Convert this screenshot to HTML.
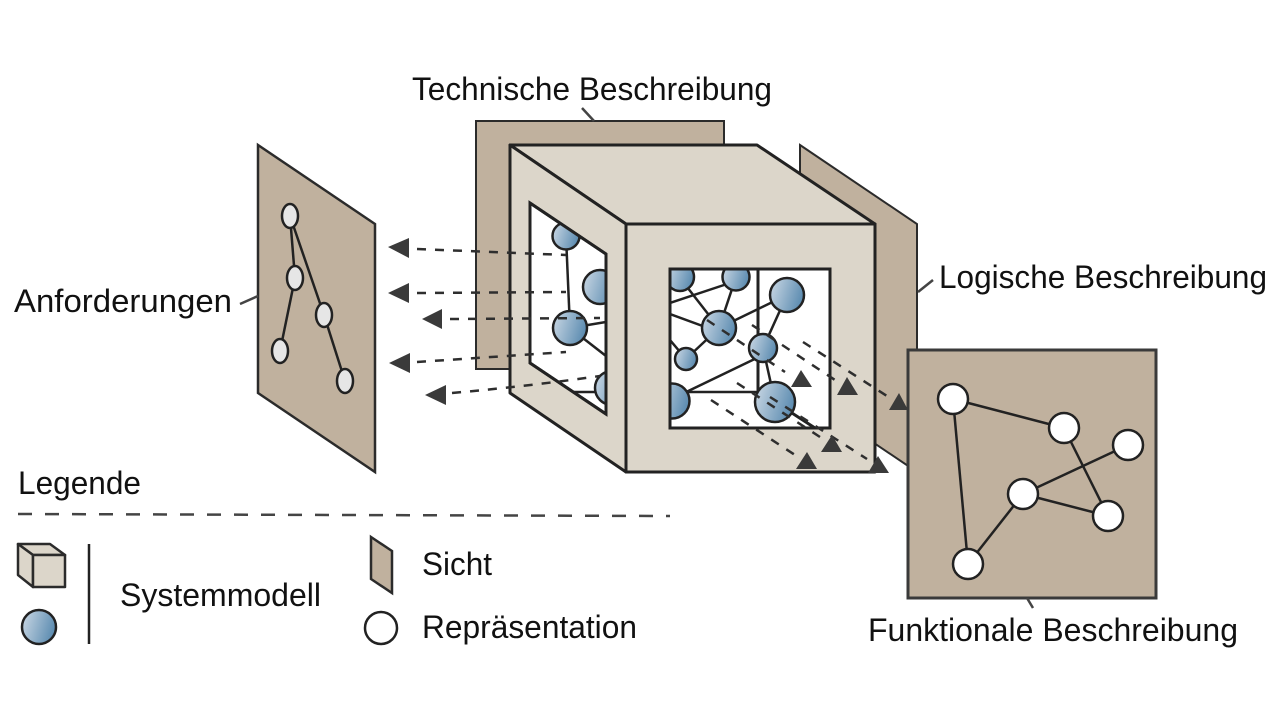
<!DOCTYPE html>
<html><head><meta charset="utf-8"><style>
html,body{margin:0;padding:0;background:#fff}
svg{display:block}
text{font-family:"Liberation Sans",sans-serif;fill:#111;font-size:32.5px}
</style></head><body>
<svg width="1280" height="721" viewBox="0 0 1280 721" xmlns="http://www.w3.org/2000/svg">
<defs>
<linearGradient id="g" x1="0" x2="1" y1="0.2" y2="0.5"><stop offset="0" stop-color="#c8d6e3"/><stop offset="1" stop-color="#5b8bb0"/></linearGradient>
<clipPath id="fw"><rect x="670" y="269" width="160" height="159"/></clipPath>
<clipPath id="lw"><polygon points="530,203 606,254 606,414 530,363"/></clipPath>
</defs>
<rect width="1280" height="721" fill="#fff"/>

<!-- back panels -->
<rect x="476" y="121" width="248" height="248" fill="#c0b19e" stroke="#2b2b2b" stroke-width="2"/>
<polygon points="800,145 917,224 917,472 800,393" fill="#c0b19e" stroke="#2b2b2b" stroke-width="2"/>

<!-- cube -->
<g stroke="#222" stroke-width="3" stroke-linejoin="round">
<polygon points="510,145 757,145 875,224 626,224" fill="#dcd6ca"/>
<polygon points="510,145 626,224 626,472 510,393" fill="#dcd6ca"/>
<rect x="626" y="224" width="249" height="248" fill="#dcd6ca"/>
<polygon points="530,203 606,254 606,414 530,363" fill="#fff"/>
<rect x="670" y="269" width="160" height="159" fill="#fff"/>
</g>

<!-- left window content -->
<g clip-path="url(#lw)" stroke="#222" stroke-width="2.5">
<line x1="566" y1="236" x2="570" y2="328"/>
<line x1="570" y1="328" x2="606" y2="322"/>
<line x1="570" y1="328" x2="606" y2="356"/>
<line x1="570" y1="392" x2="610" y2="392"/>
<circle cx="566" cy="236" r="13.5" fill="url(#g)"/>
<circle cx="600" cy="287" r="17" fill="url(#g)"/>
<circle cx="570" cy="328" r="17" fill="url(#g)"/>
<circle cx="612" cy="388" r="17" fill="url(#g)"/>
</g>
<polygon points="530,203 606,254 606,414 530,363" fill="none" stroke="#222" stroke-width="3"/>

<!-- front window content -->
<g clip-path="url(#fw)" stroke="#222" stroke-width="2.5">
<line x1="758" y1="269" x2="758" y2="392" stroke-width="3"/>
<line x1="670" y1="392" x2="760" y2="392"/>
<line x1="670" y1="303" x2="736" y2="281"/>
<line x1="680" y1="278" x2="719" y2="328"/>
<line x1="736" y1="277" x2="719" y2="328"/>
<line x1="670" y1="314" x2="719" y2="332"/>
<line x1="670" y1="340" x2="686" y2="359"/>
<line x1="686" y1="359" x2="719" y2="328"/>
<line x1="719" y1="328" x2="787" y2="295"/>
<line x1="787" y1="295" x2="763" y2="348"/>
<line x1="763" y1="348" x2="775" y2="402"/>
<line x1="763" y1="355" x2="680" y2="395"/>
<line x1="775" y1="402" x2="815" y2="428" stroke-width="3"/>
<circle cx="680" cy="277" r="14" fill="url(#g)"/>
<circle cx="736" cy="277" r="13.5" fill="url(#g)"/>
<circle cx="787" cy="295" r="17" fill="url(#g)"/>
<circle cx="719" cy="328" r="17" fill="url(#g)"/>
<circle cx="763" cy="348" r="14" fill="url(#g)"/>
<circle cx="686" cy="359" r="11" fill="url(#g)"/>
<circle cx="672" cy="401" r="17.5" fill="url(#g)"/>
<circle cx="775" cy="402" r="20" fill="url(#g)"/>
</g>
<rect x="670" y="269" width="160" height="159" fill="none" stroke="#222" stroke-width="3"/>

<!-- dashed connectors -->
<g fill="none" stroke="#2e2e2e" stroke-width="2.5" stroke-dasharray="9 9">
<line x1="417" y1="249" x2="566" y2="255"/>
<line x1="417" y1="293" x2="566" y2="292"/>
<line x1="450" y1="319" x2="600" y2="318"/>
<line x1="417" y1="362" x2="566" y2="352"/>
<path d="M452,393 Q530,386 600,376"/>
<line x1="707" y1="320" x2="785" y2="372"/>
<line x1="752" y1="325" x2="835" y2="380"/>
<line x1="803" y1="342" x2="887" y2="396"/>
<line x1="737" y1="383" x2="820" y2="437"/>
<line x1="711" y1="400" x2="795" y2="455"/>
<line x1="770" y1="397" x2="867" y2="459"/>
</g>

<!-- arrowheads -->
<g fill="#3a3a3a">
<polygon points="388,247 409,238 409,258"/>
<polygon points="388,293 409,283 409,303"/>
<polygon points="422,319 442,309 442,329"/>
<polygon points="389,363 410,353 410,373"/>
<polygon points="425,395 446,385 446,405"/>
<polygon points="801,370 791,387 812,387"/>
<polygon points="847,377 837,395 858,395"/>
<polygon points="899,393 889,410 908,410"/>
<polygon points="832,435 821,452 842,452"/>
<polygon points="807,452 796,469 817,469"/>
<polygon points="878,456 868,473 889,473"/>
</g>

<!-- Requirements panel -->
<polygon points="258,145 375,224 375,472 258,393" fill="#c0b19e" stroke="#2b2b2b" stroke-width="2.5"/>
<g stroke="#222" stroke-width="2.5" fill="none">
<line x1="290" y1="216" x2="295" y2="278"/>
<line x1="290" y1="216" x2="324" y2="315"/>
<line x1="295" y1="278" x2="280" y2="351"/>
<line x1="324" y1="315" x2="345" y2="381"/>
</g>
<g stroke="#222" stroke-width="2.5" fill="#e6e6e6">
<ellipse cx="290" cy="216" rx="8" ry="12"/>
<ellipse cx="295" cy="278" rx="8" ry="12"/>
<ellipse cx="324" cy="315" rx="8" ry="12"/>
<ellipse cx="280" cy="351" rx="8" ry="12"/>
<ellipse cx="345" cy="381" rx="8" ry="12"/>
</g>

<!-- Functional panel -->
<rect x="908" y="350" width="248" height="248" fill="#c0b19e" stroke="#3a3a3a" stroke-width="3"/>
<g stroke="#222" stroke-width="2.5" fill="none">
<line x1="953" y1="399" x2="1064" y2="428"/>
<line x1="953" y1="399" x2="968" y2="564"/>
<line x1="1064" y1="428" x2="1108" y2="516"/>
<line x1="1128" y1="445" x2="1023" y2="494"/>
<line x1="1023" y1="494" x2="1108" y2="516"/>
<line x1="1023" y1="494" x2="968" y2="564"/>
</g>
<g stroke="#222" stroke-width="2.5" fill="#fff">
<circle cx="953" cy="399" r="15"/>
<circle cx="1064" cy="428" r="15"/>
<circle cx="1128" cy="445" r="15"/>
<circle cx="1023" cy="494" r="15"/>
<circle cx="1108" cy="516" r="15"/>
<circle cx="968" cy="564" r="15"/>
</g>

<!-- leader lines -->
<g stroke="#444" stroke-width="2.5">
<line x1="582" y1="108" x2="594" y2="121"/>
<line x1="240" y1="304" x2="258" y2="296"/>
<line x1="918" y1="292" x2="933" y2="280"/>
<line x1="1027" y1="598" x2="1033" y2="608"/>
</g>

<!-- labels -->
<text x="412" y="100" textLength="360" lengthAdjust="spacingAndGlyphs">Technische Beschreibung</text>
<text x="14" y="312" textLength="218" lengthAdjust="spacingAndGlyphs">Anforderungen</text>
<text x="939" y="288" textLength="328" lengthAdjust="spacingAndGlyphs">Logische Beschreibung</text>
<text x="868" y="641" textLength="370" lengthAdjust="spacingAndGlyphs">Funktionale Beschreibung</text>
<text x="18" y="494" textLength="123" lengthAdjust="spacingAndGlyphs">Legende</text>
<text x="120" y="606" textLength="201" lengthAdjust="spacingAndGlyphs">Systemmodell</text>
<text x="422" y="575" textLength="70" lengthAdjust="spacingAndGlyphs">Sicht</text>
<text x="422" y="638" textLength="215" lengthAdjust="spacingAndGlyphs">Repräsentation</text>

<!-- legend -->
<line x1="18" y1="514" x2="670" y2="516" stroke="#444" stroke-width="2.5" stroke-dasharray="14 13"/>
<g stroke="#2b2b2b" stroke-width="2.5" stroke-linejoin="round">
<polygon points="18,544 50,544 65,555 33,555" fill="#dcd6ca"/>
<polygon points="18,544 33,555 33,587 18,575" fill="#dcd6ca"/>
<rect x="33" y="555" width="32" height="32" fill="#dcd6ca"/>
</g>
<circle cx="39" cy="627" r="17" fill="url(#g)" stroke="#222" stroke-width="2.5"/>
<line x1="89" y1="544" x2="89" y2="644" stroke="#222" stroke-width="2.5"/>
<polygon points="371,537 392,551 392,593 371,579" fill="#c0b19e" stroke="#2b2b2b" stroke-width="2.5"/>
<circle cx="381" cy="628" r="16" fill="#fff" stroke="#222" stroke-width="2.5"/>
</svg>
</body></html>
